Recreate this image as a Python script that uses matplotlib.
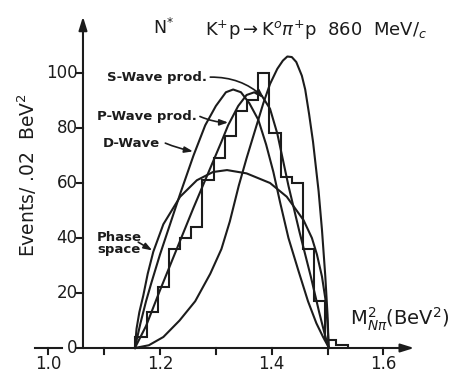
import numpy as np
import matplotlib
matplotlib.use("Agg")
import matplotlib.pyplot as plt

# histogram: events per .02 BeV^2 bin
hist_edges = np.linspace(1.156, 1.536, 20)
hist_counts = [4, 13, 22, 36, 40, 44, 61, 69, 77, 86, 90, 100, 78, 62, 60, 36, 17, 3, 1]

# phase space curve
phase_m = [1.155, 1.158, 1.163, 1.170, 1.178, 1.188, 1.206, 1.236, 1.266, 1.295, 1.320,
           1.355, 1.397, 1.427, 1.457, 1.472, 1.481, 1.490, 1.496, 1.500, 1.502]
phase_v = [0, 7, 13, 19, 27, 35, 45, 55, 61, 64, 64.7,
           63.5, 60, 55, 46.5, 40, 34, 26, 18, 9, 0]

# D-wave curve
dwave_m = [1.155, 1.165, 1.175, 1.185, 1.200, 1.218, 1.236, 1.260, 1.281, 1.300, 1.318,
           1.331, 1.345, 1.360, 1.376, 1.390, 1.403, 1.415, 1.430, 1.448, 1.465, 1.480,
           1.492, 1.500, 1.503]
dwave_v = [0, 9, 17, 24, 34, 45, 56, 70, 81, 88, 93,
           94, 93, 89, 83, 74, 64, 53, 40, 28, 17, 9,
           4, 1, 0]

# P-wave production curve
pwave_m = [1.155, 1.175, 1.200, 1.236, 1.260, 1.285, 1.310, 1.322, 1.340, 1.355, 1.369,
           1.383, 1.397, 1.410, 1.430, 1.450, 1.470, 1.485, 1.495, 1.502]
pwave_v = [0, 8, 21, 39, 51, 63, 75, 81, 88, 92, 93,
           91.5, 87, 78, 59, 42, 26, 13, 5, 0]

# S-wave production curve
swave_m = [1.155, 1.180, 1.206, 1.235, 1.263, 1.290, 1.310, 1.325, 1.341, 1.355, 1.370,
           1.385, 1.397, 1.410, 1.420, 1.428, 1.436, 1.444, 1.454, 1.460, 1.467, 1.474,
           1.484, 1.490, 1.496, 1.500, 1.502]
swave_v = [0, 1, 4, 10, 17, 27, 36, 46, 59, 69, 79,
           89, 96, 101.5, 104.5, 106, 105.8, 104, 99, 94, 85, 75,
           57, 43, 26, 12, 0]

x_ticks = [1.1, 1.2, 1.3, 1.4, 1.5, 1.6]
x_labels = {1.0: "1.0", 1.2: "1.2", 1.4: "1.4", 1.6: "1.6"}
y_ticks = [0, 20, 40, 60, 80, 100]

ink = "#1c1c1c"
lw = 1.5

fig = plt.figure(figsize=(4.61, 3.74), dpi=100)
ax = fig.add_axes([0, 0, 1, 1])
ax.set_xlim(0.91352, 1.73895)
ax.set_ylim(-9.4545, 126.545)
ax.axis("off")

x0 = 1.0621  # where the vertical axis stands

# axes with arrows
ax.annotate("", xy=(x0, 120.5), xytext=(x0, 0),
            arrowprops=dict(arrowstyle="-|>,head_length=0.8,head_width=0.25", color=ink, lw=lw,
                            shrinkA=0, shrinkB=0))
ax.annotate("", xy=(1.655, 0), xytext=(x0, 0),
            arrowprops=dict(arrowstyle="-|>,head_length=0.8,head_width=0.25", color=ink, lw=lw,
                            shrinkA=0, shrinkB=0))
ax.plot([0.976, 1.0245], [0, 0], color=ink, lw=lw)
for t in [1.0] + x_ticks:
    ax.plot([t, t], [0, -2.0], color=ink, lw=lw)
for t in y_ticks:
    ax.plot([1.0514, x0], [t, t], color=ink, lw=lw)

for t, s in x_labels.items():
    ax.text(t, -5.8, s, ha="center", va="center", fontsize=12, color=ink)
for t in y_ticks:
    ax.text(1.0525, t, str(t), ha="right", va="center", fontsize=12, color=ink)

# data
ax.stairs(hist_counts, hist_edges, color=ink, lw=lw)
for m, v in [(phase_m, phase_v), (dwave_m, dwave_v), (pwave_m, pwave_v), (swave_m, swave_v)]:
    ax.plot(m, v, color=ink, lw=lw, solid_joinstyle="round")

# curve labels
lab = dict(fontsize=9.5, fontweight="bold", color=ink, va="center")
ax.text(1.1051, 98.5, "S-Wave prod.", ha="left", **lab)
ax.text(1.0872, 84.2, "P-Wave prod.", ha="left", **lab)
ax.text(1.0979, 74.5, "D-Wave", ha="left", **lab)
ax.text(1.0872, 38.0, "Phase\nspace", ha="left", linespacing=0.85, **lab)

arr = dict(arrowstyle="-|>,head_length=0.5,head_width=0.18", color=ink, lw=1.2,
           shrinkA=0, shrinkB=0)
ax.annotate("", xy=(1.386, 91), xytext=(1.290, 98.5),
            arrowprops=dict(connectionstyle="arc3,rad=-0.2", **arr))
ax.annotate("", xy=(1.322, 82), xytext=(1.2715, 84.2),
            arrowprops=dict(connectionstyle="arc3,rad=0.1", **arr))
ax.annotate("", xy=(1.259, 71.5), xytext=(1.2095, 74.5),
            arrowprops=dict(connectionstyle="arc3,rad=0.05", **arr))
ax.annotate("", xy=(1.186, 35.5), xytext=(1.161, 38.5),
            arrowprops=dict(connectionstyle="arc3,rad=0.0", **arr))

# titles and axis labels
ax.text(1.207, 116.3, r"N$^{*}$", ha="center", va="center", fontsize=12.5, color=ink)
ax.text(1.2806, 115.6, r"K$^{+}$p$\rightarrow$K$^{o}\pi^{+}$p  860  MeV/$_{c}$",
        ha="left", va="center", fontsize=13, color=ink)
ax.text(0.9625, 63, r"Events/ .02  BeV$^{2}$", rotation=90, ha="center", va="center",
        fontsize=13.5, color=ink)
ax.text(1.540, 10.3, r"M$^{2}_{N\pi}$(BeV$^{2}$)", ha="left", va="center",
        fontsize=14, color=ink)

fig.savefig("out.png", dpi=100, facecolor="white")
